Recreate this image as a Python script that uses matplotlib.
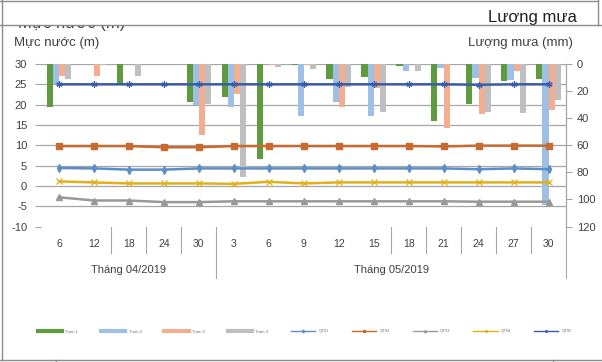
import matplotlib
matplotlib.use("Agg")
import matplotlib.pyplot as plt
import matplotlib.transforms as mtransforms
from matplotlib.lines import Line2D
from matplotlib.patches import Rectangle
import numpy as np

plt.rcParams['font.family'] = ['Liberation Sans', 'DejaVu Sans']

# ---------------- data ----------------
days = ["6", "12", "18", "24", "30", "3", "6", "9", "12", "15", "18", "21", "24", "27", "30"]
months = ["Tháng 04/2019", "Tháng 05/2019"]
month_counts = [5, 10]

rain_green = [32.0, 0, 14.7, 0, 27.7, 24.7, 69.8, 0.4, 10.9, 9.5, 1.8, 42.4, 29.2, 12.9, 11.4]
rain_blue = [15.0, 0, 0, 0, 30.4, 32.0, 0, 38.2, 28.4, 38.2, 4.9, 3.3, 10.0, 11.5, 104.0]
rain_salmon = [8.5, 8.5, 0, 0, 52.3, 22.5, 0.6, 0.5, 31.4, 17.5, 0, 47.2, 36.6, 5.5, 33.8]
rain_grey = [10.8, 1.1, 8.5, 0, 29.4, 83.8, 2.0, 4.0, 17.3, 35.1, 5.5, 0, 35.1, 36.5, 26.4]

wl_blue = [4.4, 4.3, 4.0, 4.0, 4.3, 4.3, 4.3, 4.3, 4.3, 4.3, 4.3, 4.3, 4.1, 4.3, 4.1]
wl_orange = [9.8, 9.8, 9.8, 9.5, 9.5, 9.8, 9.8, 9.8, 9.8, 9.8, 9.8, 9.7, 9.9, 9.9, 9.9]
wl_grey = [-2.8, -3.6, -3.6, -4.0, -4.0, -3.8, -3.8, -3.8, -3.8, -3.8, -3.8, -3.8, -3.9, -3.9, -3.9]
wl_yellow = [1.1, 0.85, 0.6, 0.6, 0.6, 0.5, 1.0, 0.6, 0.85, 0.85, 0.85, 0.85, 0.85, 0.85, 0.85]
wl_darkblue = [25.0, 25.0, 25.0, 25.0, 25.0, 25.0, 25.0, 25.0, 25.0, 25.0, 25.0, 25.0, 24.9, 25.0, 25.0]

legend_labels = ["Trạm 1", "Trạm 2", "Trạm 3", "Trạm 4",
                 "QT01", "QT02", "QT03", "QT04", "QT05"]

left_ticks = [-10, -5, 0, 5, 10, 15, 20, 25, 30]
right_ticks = [0, 20, 40, 60, 80, 100, 120]

# ---------------- styles ----------------
c_bar = ["#5E9B3F", "#9DC0E4", "#F3AE92", "#BFBFBF"]
c_line = {"blue": "#5B8EC6", "orange": "#C8692F", "grey": "#999999",
          "yellow": "#E0B11A", "darkblue": "#3A5BA8"}
grid_c = "#A6A6A6"
frame_c = "#8C8C8C"

W, H = 602, 362
fig = plt.figure(figsize=(W / 100, H / 100), dpi=100)

px_l, px_r, px_t, px_b = 41.5, 566.0, 64.0, 226.5
rect = [px_l / W, 1 - px_b / H, (px_r - px_l) / W, (px_b - px_t) / H]

axL = fig.add_axes(rect)
axL.set_zorder(0)
axR = axL.twinx()
axR.set_zorder(1)
axT = axL.twinx()
axT.set_zorder(2)

n = len(days)
x = np.arange(n)

# left axis (water level)
axL.set_xlim(-0.5, n - 0.5)
axL.set_ylim(-10, 30)
axL.set_yticks(left_ticks)
axL.set_yticklabels([str(v) for v in left_ticks], fontsize=8, color="#404040")
axL.tick_params(axis='y', length=4.3, width=0.8, color=grid_c, pad=6)
axL.set_xticks([])
for s in axL.spines.values():
    s.set_visible(False)
axL.yaxis.grid(True, color=grid_c, lw=0.9)
axL.set_axisbelow(True)
axL.get_ygridlines()[0].set_visible(False)

# right axis (rain), inverted
bw = 0.175
for k, (vals, col) in enumerate(zip([rain_green, rain_blue, rain_salmon, rain_grey], c_bar)):
    axR.bar(x + (k - 1.5) * bw, vals, width=bw, color=col, zorder=2)
axR.set_ylim(120, 0)
axR.set_yticks(right_ticks)
axR.set_yticklabels([str(v) for v in right_ticks], fontsize=8, color="#404040")
axR.tick_params(axis='y', length=4.3, width=0.8, color=grid_c, pad=3.5)
for s in ["top", "bottom", "left"]:
    axR.spines[s].set_visible(False)
axR.spines["right"].set_color(grid_c)
axR.spines["right"].set_linewidth(0.9)
axR.set_xlim(-0.5, n - 0.5)

# top axes: lines
axT.set_ylim(-10, 30)
axT.set_xlim(-0.5, n - 0.5)
axT.set_yticks([])
for s in axT.spines.values():
    s.set_visible(False)
lw = 1.8
axT.plot(x, wl_darkblue, color=c_line["darkblue"], lw=lw, marker=(6, 2, 0), ms=4.5, mew=0.9)
axT.plot(x, wl_orange, color=c_line["orange"], lw=lw, marker='s', ms=4.5)
axT.plot(x, wl_blue, color=c_line["blue"], lw=lw, marker='d', ms=4)
axT.plot(x, wl_yellow, color=c_line["yellow"], lw=lw, marker='x', ms=4, mew=0.9)
axT.plot(x, wl_grey, color=c_line["grey"], lw=lw, marker='^', ms=4)

# category axis labels
trans = mtransforms.blended_transform_factory(axL.transData, axL.transAxes)
hpx = px_b - px_t
def ay(py):
    return (px_b - py) / hpx

for i, d in enumerate(days):
    axL.text(i, ay(244), d, transform=trans, ha='center', va='center',
             fontsize=7.5, color="#404040")
# separators
short_b = [2, 3, 4, 10, 11, 12, 13, 14]
long_b = [5, 15]
for b in short_b:
    axL.plot([b - 0.5, b - 0.5], [ay(227), ay(253)], transform=trans,
             color=grid_c, lw=0.8, clip_on=False)
for b in long_b:
    axL.plot([b - 0.5, b - 0.5], [ay(227), ay(278)], transform=trans,
             color=grid_c, lw=0.8, clip_on=False)
start = 0
for m, cnt in zip(months, month_counts):
    axL.text(start + cnt / 2 - 0.5, ay(270), m, transform=trans, ha='center',
             va='center', fontsize=8, color="#404040")
    start += cnt

# axis titles
def fx(px):
    return px / W
def fy(py):
    return 1 - py / H

fig.text(fx(14), fy(43), "Mực nước (m)", fontsize=9.5, ha='left', va='center', color="#404040")
fig.text(fx(573), fy(43), "Lượng mưa (mm)", fontsize=9.5, ha='right', va='center', color="#404040")

# partially hidden title and top frame
fig.text(fx(18), fy(28), "Mực nước (m)", fontsize=12, ha='left', va='baseline',
         color="#404040", zorder=1)
fig.add_artist(Rectangle((fx(2.5), fy(24.5)), fx(420), 24 / H, transform=fig.transFigure,
                         facecolor='white', edgecolor='none', zorder=2))
fig.text(fx(577), fy(22), "Lương mưa", fontsize=12, ha='right', va='baseline',
         color="#202020", zorder=3)

def fline(xs, ys, **kw):
    fig.add_artist(Line2D([fx(v) for v in xs], [fy(v) for v in ys],
                          transform=fig.transFigure, color=frame_c, lw=1, zorder=4, **kw))

fline([0, 598], [1, 1])
fline([0, 602], [24.5, 24.5])
fline([1.5, 1.5], [0, 360])
fline([597.5, 597.5], [0, 24.5])
fline([0, 602], [360, 360])
fline([56, 56], [360, 362])
fline([553, 553], [360, 362])

# legend
handles = []
for col in c_bar:
    handles.append(Line2D([], [], color=col, lw=3))
for key, mk in [("blue", 'd'), ("orange", 's'), ("grey", '^'), ("yellow", 'x'), ("darkblue", (6, 2, 0))]:
    handles.append(Line2D([], [], color=c_line[key], lw=1, marker=mk, ms=1.5))
fig.legend(handles, legend_labels, loc='center', bbox_to_anchor=(fx(305), fy(331)),
           ncol=9, frameon=False, fontsize=3, handlelength=5.8, handletextpad=0.8,
           columnspacing=5.5, labelcolor="#707070")

fig.savefig("out.png", dpi=100, facecolor='white')
